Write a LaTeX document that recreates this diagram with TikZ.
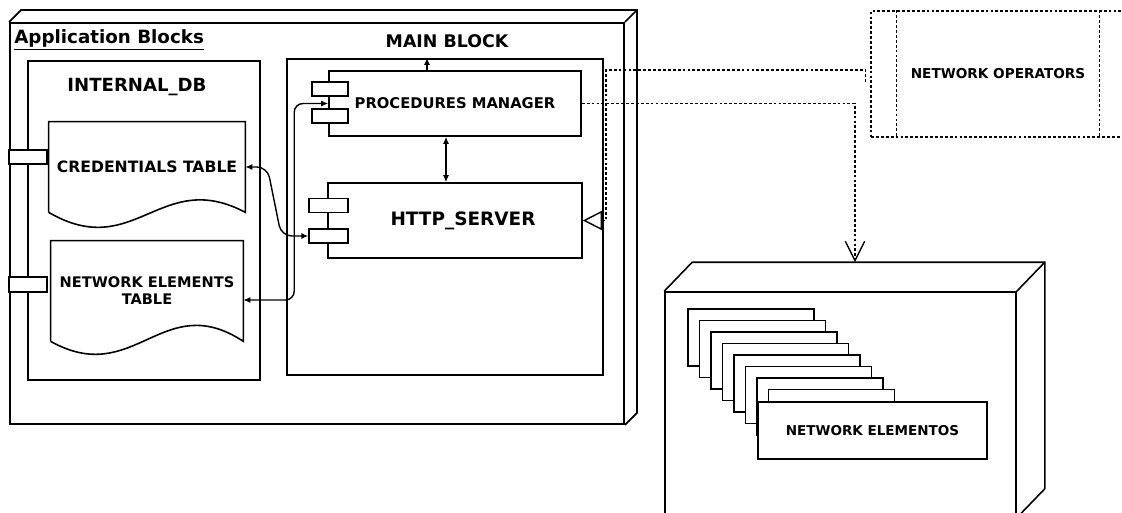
\documentclass[tikz,border=0pt]{standalone}
\usepackage{fontspec}
\setmainfont{DejaVu Sans}
\usetikzlibrary{positioning,calc,arrows.meta}

\newcommand{\pxl}{0.02cm}

\tikzset{
  sz/.style 2 args={minimum width=#1*\pxl, minimum height=#2*\pxl},
  box/.style={rectangle, draw, line width=0.9pt, fill=white, inner sep=0pt},
  portbox/.style={rectangle, draw, line width=0.8pt, fill=white, inner sep=0pt},
  card/.style={rectangle, draw, line width=0.8pt, fill=white, inner sep=0pt},
  dotlink/.style={line width=0.8pt, dash pattern=on 1.6pt off 1.2pt},
  arr/.style={line width=0.8pt, {Latex[length=4pt,width=3.5pt]}-{Latex[length=4pt,width=3.5pt]}},
}

\begin{document}
\begin{tikzpicture}[x=\pxl, y=-\pxl]
    \useasboundingbox (0,0) rectangle (1122,513);
    \clip (0,0) rectangle (1122,513);

    % Application blocks
    \node[box, line width=1pt, sz={614}{401}] (app) at (317,223.5) {};
    \draw[line width=1pt] (app.north west) -- ++(12,-12) -- ($(app.north east)+(12,-12)$) -- ($(app.south east)+(12,-12)$) -- (app.south east);
    \draw[line width=1pt] (app.north east) -- ++(12,-12);
    \node[anchor=west, inner sep=0pt, font=\fontsize{10.4}{12}\selectfont\bfseries] (apptitle) at (14,40) {\underline{Application Blocks}};

    % Internal DB
    \node[box, sz={232}{319}] (idb) at (144,220.5) {};
    \node[font=\fontsize{10.3}{12}\selectfont\bfseries] (idbtitle) at (137,87) {INTERNAL\_DB};
    \node[portbox, sz={38}{14}] (idbport1) at (28,157) {};
    \node[portbox, sz={38}{15}] (idbport2) at (28,284.5) {};

    % Tables
    \node[inner sep=0pt, sz={196}{90}, font=\fontsize{8.9}{10}\selectfont\bfseries] (cred) at (147,167) {CREDENTIALS TABLE};
    \draw[line width=0.9pt] (cred.south west) -- (cred.north west) -- (cred.north east) -- (cred.south east) .. controls +(-85,-45) and +(86,50) .. (cred.south west);
    \node[inner sep=0pt, sz={192}{100}, align=center, font=\fontsize{8.3}{9.6}\selectfont\bfseries] (nedoc) at (147,291) {NETWORK ELEMENTS\\TABLE};
    \draw[line width=0.9pt] (nedoc.south west) -- (nedoc.north west) -- (nedoc.north east) -- (nedoc.south east) .. controls +(-81,-53) and +(84,47) .. (nedoc.south west);

    % Main block
    \node[box, line width=1.4pt, sz={316}{316}] (mainblk) at (445,217) {};
    \node[font=\fontsize{9.9}{12}\selectfont\bfseries] (maintitle) at (447,41) {MAIN BLOCK};

    \node[box, sz={252}{65}, font=\fontsize{8.4}{10}\selectfont\bfseries] (pm) at (455,103.5) {PROCEDURES MANAGER};
    \node[portbox, sz={36}{14}] (pmport1) at (330,89) {};
    \node[portbox, sz={36}{14}] (pmport2) at (330,116) {};

    \node[box, sz={254}{75}, font=\fontsize{10.5}{12}\selectfont\bfseries] (http) at (455,220.5) {\hspace*{0.32cm}HTTP\_SERVER};
    \node[portbox, sz={39}{13.5}] (hport1) at (328.5,205.5) {};
    \node[portbox, sz={39}{14}] (hport2) at (328.5,236) {};

    % Network operators
    \node[rectangle, draw, dotlink, sz={254}{126}, font=\fontsize{7.75}{9}\selectfont\bfseries] (ops) at (998,74) {NETWORK OPERATORS};
    \draw[dotlink] ($(ops.north west)+(26,0)$) -- ($(ops.south west)+(26,0)$);
    \draw[dotlink] ($(ops.north east)+(-26,0)$) -- ($(ops.south east)+(-26,0)$);

    % Network elements
    \node[box, sz={351}{225}] (nel) at (840.5,404.5) {};
    \draw[line width=0.9pt] (nel.north west) -- ++(28,-29) -- ($(nel.north east)+(28,-29)$) -- ($(nel.south east)+(28,-29)$) -- (nel.south east);
    \draw[line width=0.9pt] (nel.north east) -- ++(28,-29);
    \foreach \i in {0,...,7}
        \node[card, sz={126}{57}] (card\i) at ({751+11.5*\i},{337.5+11.5*\i}) {};
    \node[card, sz={229}{57}, font=\fontsize{7.7}{9}\selectfont\bfseries] (nelem) at (872.5,430.5) {NETWORK ELEMENTOS};
    \coordinate (netop) at ($(nel.north)+(14.5,-29)$);

    % Connectors
    \draw[arr] ($(pm.south)+(-9,0)$) -- ($(http.north)+(-9,0)$);
    \draw[line width=0.8pt, -{Latex[length=4pt,width=3.5pt]}] ($(pm.north)+(-28,0)$) -- ($(mainblk.north)+(-18,0)$);
    \draw[arr, rounded corners=6pt] (cred.east) -- ++(22,0) -- ($(hport2.west)+(-27,0)$) -- (hport2.west);
    \draw[arr, rounded corners=5pt] ($(nedoc.east)+(0,9)$) -| ($(pm.west)+(-34,0)$) -- (pm.west);

    \draw[dotlink, -{Triangle[open, length=11pt, width=11pt]}] ($(ops.west)+(-5,8)$) -- ++(0,-12) -| ($(http.east)+(23,0)$) -- (http.east);
    \draw[dotlink, -{Straight Barb[length=11pt, width=11pt]}] (pm.east) -| (netop);
\end{tikzpicture}
\end{document}
